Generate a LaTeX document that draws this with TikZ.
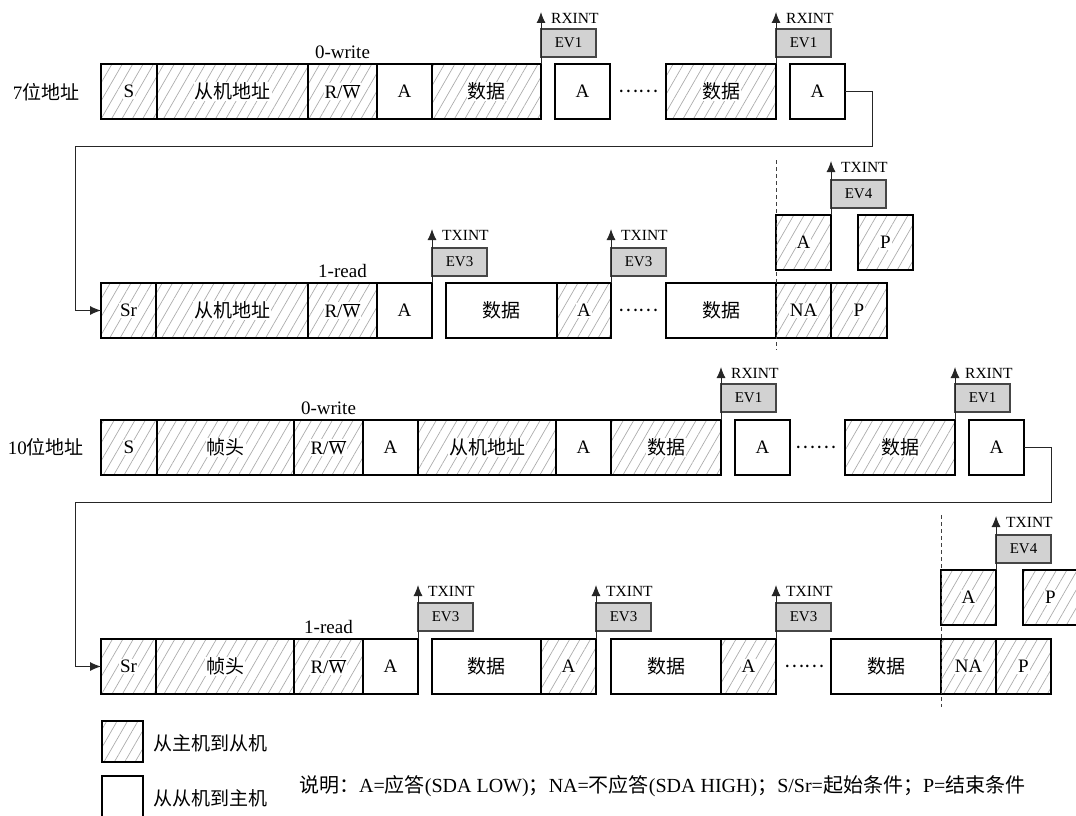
\documentclass[tikz,border=0pt]{standalone}
\usepackage{fontspec}
\setmainfont{Liberation Serif}
\newfontfamily\cjk{Noto Sans CJK SC}
\usetikzlibrary{patterns.meta,arrows.meta}
\newcommand\zh[1]{{\cjk #1}}
\newcommand\wbg[1]{{\setlength{\fboxsep}{1pt}\colorbox{white}{#1}}}
\newcommand\RW{R/$\overline{\mbox{W}}$}
\newcommand\seg[6]{\node[#2, minimum width={(#4-#3)*1pt}] (#1) at (#3,#5) {#6};}
\tikzset{
  segbase/.style={draw=black, line width=2.5pt, minimum height=55pt, inner sep=0pt, outer sep=0pt,
    anchor=north west, font=\fontsize{19}{23}\selectfont},
  hseg/.style={segbase, pattern={Lines[angle=60,distance=9pt,line width=0.7pt]}, pattern color=gray!65},
  wseg/.style={segbase, fill=white},
  evbox/.style={draw=gray!55!black, fill=gray!35, line width=1.1pt, minimum width=55pt, minimum height=28pt,
    inner sep=0pt, outer sep=0pt, anchor=north west, font=\fontsize{15}{18}\selectfont},
  intlab/.style={anchor=west, inner sep=0pt, font=\fontsize{15.5}{18}\selectfont},
  plain/.style={inner sep=0pt, font=\fontsize{19}{23}\selectfont},
  conn/.style={draw=black!85, line width=1pt},
  intarrow/.style={conn, -{Latex[length=11pt,width=9pt]}},
  dashline/.style={draw=gray!50!black, line width=0.8pt, dash pattern=on 4pt off 3pt},
}
\begin{document}
\begin{tikzpicture}[x=1pt,y=-1pt]
\useasboundingbox (0,0) rectangle (1076,816);

% ---------------- Row 1 ----------------
\node[plain] (lab7) at (46,92) {7\zh{位地址}};
\seg{r1s}{hseg}{101}{157}{64}{\wbg{S}}
\seg{r1adr}{hseg}{157}{308}{64}{\wbg{\zh{从机地址}}}
\seg{r1rw}{hseg}{308}{377}{64}{\wbg{\RW}}
\seg{r1ack}{wseg}{377}{432}{64}{A}
\seg{r1d}{hseg}{432}{541}{64}{\wbg{\zh{数据}}}
\seg{r1a2}{wseg}{555}{610}{64}{A}
\node[plain] (r1dots) at (638.5,91.5) {\zh{……}};
\seg{r1d2}{hseg}{666}{776}{64}{\wbg{\zh{数据}}}
\seg{r1a3}{wseg}{790}{845}{64}{A}
\node[plain, anchor=south] (r1w) at (r1rw.north) [yshift=5pt] {0-write};
\node[evbox] (r1e1) at (541,29) {EV1};
\node[evbox] (r1e2) at (776,29) {EV1};
\coordinate (r1t1) at (541,12);
\coordinate (r1t2) at (776,12);
\draw[intarrow] (r1d.north east) -- (r1t1);
\draw[intarrow] (r1d2.north east) -- (r1t2);
\node[intlab] (r1l1) at (551,18) {RXINT};
\node[intlab] (r1l2) at (786,18) {RXINT};

% connector row1 -> row2
\coordinate (c1a) at (872,91.5);
\coordinate (c1b) at (872,146);
\coordinate (c1c) at (75,146);
\coordinate (c1d) at (75,310.5);

% ---------------- Row 2 ----------------
\seg{r2sr}{hseg}{101}{156}{283}{\wbg{Sr}}
\seg{r2adr}{hseg}{156}{308}{283}{\wbg{\zh{从机地址}}}
\seg{r2rw}{hseg}{308}{377}{283}{\wbg{\RW}}
\seg{r2ack}{wseg}{377}{432}{283}{A}
\seg{r2d}{wseg}{446}{557}{283}{\zh{数据}}
\seg{r2a2}{hseg}{557}{611}{283}{\wbg{A}}
\node[plain] (r2dots) at (638.5,310.5) {\zh{……}};
\seg{r2d2}{wseg}{666}{776}{283}{\zh{数据}}
\seg{r2na}{hseg}{776}{831}{283}{\wbg{NA}}
\seg{r2p}{hseg}{831}{887}{283}{\wbg{P}}
\seg{r2ua}{hseg}{776}{831}{215}{\wbg{A}}
\seg{r2up}{hseg}{858}{913}{215}{\wbg{P}}
\node[plain, anchor=south] (r2r) at (r2rw.north) [yshift=5pt] {1-read};
\node[evbox] (r2e1) at (432,248) {EV3};
\node[evbox] (r2e2) at (611,248) {EV3};
\node[evbox] (r2e3) at (831,180) {EV4};
\coordinate (r2t1) at (432,229);
\coordinate (r2t2) at (611,229);
\coordinate (r2t3) at (831,161);
\draw[intarrow] (r2ack.north east) -- (r2t1);
\draw[intarrow] (r2a2.north east) -- (r2t2);
\draw[intarrow] (r2ua.north east) -- (r2t3);
\node[intlab] (r2l1) at (442,235) {TXINT};
\node[intlab] (r2l2) at (621,235) {TXINT};
\node[intlab] (r2l3) at (841,167) {TXINT};
\coordinate (r2dt) at (776,160);
\coordinate (r2db) at (776,350);
\draw[dashline] (r2dt) -- (r2db);

\draw[conn] (r1a3.east) -- (c1a) -- (c1b) -- (c1c) -- (c1d);
\draw[intarrow] (c1d) -- (r2sr.west);

% ---------------- Row 3 ----------------
\node[plain] (lab10) at (46,447) {10\zh{位地址}};
\seg{r3s}{hseg}{101}{157}{420}{\wbg{S}}
\seg{r3h}{hseg}{157}{294}{420}{\wbg{\zh{帧头}}}
\seg{r3rw}{hseg}{294}{363}{420}{\wbg{\RW}}
\seg{r3ack}{wseg}{363}{418}{420}{A}
\seg{r3adr}{hseg}{418}{556}{420}{\wbg{\zh{从机地址}}}
\seg{r3ack2}{wseg}{556}{611}{420}{A}
\seg{r3d}{hseg}{611}{721}{420}{\wbg{\zh{数据}}}
\seg{r3a2}{wseg}{735}{790}{420}{A}
\node[plain] (r3dots) at (816,447.5) {\zh{……}};
\seg{r3d2}{hseg}{845}{955}{420}{\wbg{\zh{数据}}}
\seg{r3a3}{wseg}{969}{1024}{420}{A}
\node[plain, anchor=south] (r3w) at (r3rw.north) [yshift=5pt] {0-write};
\node[evbox] (r3e1) at (721,384) {EV1};
\node[evbox] (r3e2) at (955,384) {EV1};
\coordinate (r3t1) at (721,367);
\coordinate (r3t2) at (955,367);
\draw[intarrow] (r3d.north east) -- (r3t1);
\draw[intarrow] (r3d2.north east) -- (r3t2);
\node[intlab] (r3l1) at (731,373) {RXINT};
\node[intlab] (r3l2) at (965,373) {RXINT};

\coordinate (c2a) at (1051,447.5);
\coordinate (c2b) at (1051,502);
\coordinate (c2c) at (75,502);
\coordinate (c2d) at (75,666.5);

% ---------------- Row 4 ----------------
\seg{r4sr}{hseg}{101}{156}{639}{\wbg{Sr}}
\seg{r4h}{hseg}{156}{294}{639}{\wbg{\zh{帧头}}}
\seg{r4rw}{hseg}{294}{363}{639}{\wbg{\RW}}
\seg{r4ack}{wseg}{363}{418}{639}{A}
\seg{r4d}{wseg}{432}{541}{639}{\zh{数据}}
\seg{r4a}{hseg}{541}{596}{639}{\wbg{A}}
\seg{r4d2}{wseg}{611}{721}{639}{\zh{数据}}
\seg{r4a2}{hseg}{721}{776}{639}{\wbg{A}}
\node[plain] (r4dots) at (804.5,666.5) {\zh{……}};
\seg{r4d3}{wseg}{831}{941}{639}{\zh{数据}}
\seg{r4na}{hseg}{941}{996}{639}{\wbg{NA}}
\seg{r4p}{hseg}{996}{1051}{639}{\wbg{P}}
\seg{r4ua}{hseg}{941}{996}{570}{\wbg{A}}
\seg{r4up}{hseg}{1023}{1078}{570}{\wbg{P}}
\node[plain, anchor=south] (r4r) at (r4rw.north) [yshift=5pt] {1-read};
\node[evbox] (r4e1) at (418,603) {EV3};
\node[evbox] (r4e2) at (596,603) {EV3};
\node[evbox] (r4e3) at (776,603) {EV3};
\node[evbox] (r4e4) at (996,535) {EV4};
\coordinate (r4t1) at (418,585);
\coordinate (r4t2) at (596,585);
\coordinate (r4t3) at (776,585);
\coordinate (r4t4) at (996,516);
\draw[intarrow] (r4ack.north east) -- (r4t1);
\draw[intarrow] (r4a.north east) -- (r4t2);
\draw[intarrow] (r4a2.north east) -- (r4t3);
\draw[intarrow] (r4ua.north east) -- (r4t4);
\node[intlab] (r4l1) at (428,591) {TXINT};
\node[intlab] (r4l2) at (606,591) {TXINT};
\node[intlab] (r4l3) at (786,591) {TXINT};
\node[intlab] (r4l4) at (1006,522) {TXINT};
\coordinate (r4dt) at (941,515);
\coordinate (r4db) at (941,707);
\draw[dashline] (r4dt) -- (r4db);

\draw[conn] (r3a3.east) -- (c2a) -- (c2b) -- (c2c) -- (c2d);
\draw[intarrow] (c2d) -- (r4sr.west);

% ---------------- Legend ----------------
\node[hseg, minimum width=41pt, minimum height=41pt] (lg1) at (102,721) {};
\node[wseg, minimum width=41pt, minimum height=41pt] (lg2) at (102,776) {};
\node[plain, anchor=west] (lg1t) at (153,743) {\zh{从主机到从机}};
\node[plain, anchor=west] (lg2t) at (153,798) {\zh{从从机到主机}};
\node[plain, anchor=west, font=\fontsize{20}{24}\selectfont] (note) at (299,786) {\zh{说明：}A=\zh{应答}(SDA LOW)\zh{；}NA=\zh{不应答}(SDA HIGH)\zh{；}S/Sr=\zh{起始条件}\zh{；}P=\zh{结束条件}};
\end{tikzpicture}
\end{document}
